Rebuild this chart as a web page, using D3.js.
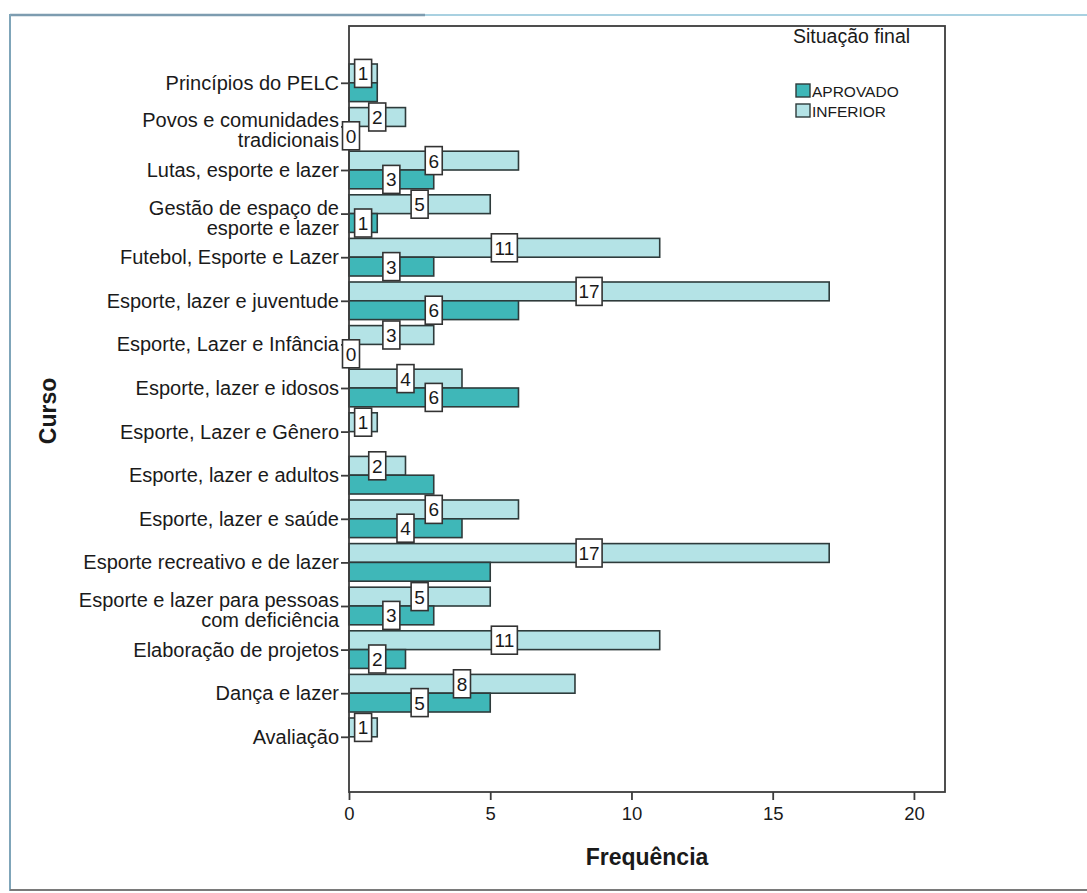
<!DOCTYPE html>
<html>
<head>
<meta charset="utf-8">
<script src="https://cdn.jsdelivr.net/npm/d3@7"></script>
<style>
  html, body { margin: 0; padding: 0; background: #ffffff; }
  svg { display: block; font-family: "Liberation Sans", Arial, sans-serif; }
</style>
</head>
<body>
<svg id="chart" width="1087" height="893"></svg>
<script>
// ---- data ----
const categories = [
  "Princípios do PELC",
  "Povos e comunidades|tradicionais",
  "Lutas, esporte e lazer",
  "Gestão de espaço de|esporte e lazer",
  "Futebol, Esporte e Lazer",
  "Esporte, lazer e juventude",
  "Esporte, Lazer e Infância",
  "Esporte, lazer e idosos",
  "Esporte, Lazer e Gênero",
  "Esporte, lazer e adultos",
  "Esporte, lazer e  saúde",
  "Esporte recreativo e de lazer",
  "Esporte e lazer para pessoas|com deficiência",
  "Elaboração de projetos",
  "Dança e lazer",
  "Avaliação"
];
const seriesNames = ["APROVADO", "INFERIOR"];
const aprovado = [1, 0, 3, 1, 3, 6, 0, 6, null, 3, 4, 5, 3, 2, 5, null];
const inferior = [1, 2, 6, 5, 11, 17, 3, 4, 1, 2, 6, 17, 5, 11, 8, 1];
const aprovadoLabels = [null, "0", "3", "1", "3", "6", "0", "6", null, null, "4", null, "3", "2", "5", null];
const inferiorLabels = ["1", "2", "6", "5", "11", "17", "3", "4", "1", "2", "6", "17", "5", "11", "8", "1"];
const xTicks = [0, 5, 10, 15, 20];
const legendTitle = "Situação final";
const xTitle = "Frequência";
const yTitle = "Curso";

// ---- styles ----
const colors = { APROVADO: "#3fb7b8", INFERIOR: "#b4e3e6" };
const strokeColor = "#2e3b3b";

const svg = d3.select("#chart");

// outer frame
svg.append("line").attr("x1", 10).attr("x2", 425).attr("y1", 15).attr("y2", 15)
  .attr("stroke", "#7d9cb0").attr("stroke-width", 2.5);
svg.append("line").attr("x1", 425).attr("x2", 1087).attr("y1", 15).attr("y2", 15)
  .attr("stroke", "#a9d1e1").attr("stroke-width", 2);
svg.append("line").attr("x1", 10).attr("x2", 10).attr("y1", 14).attr("y2", 891)
  .attr("stroke", "#7fa5b9").attr("stroke-width", 2);
svg.append("line").attr("x1", 10).attr("x2", 1087).attr("y1", 890).attr("y2", 890)
  .attr("stroke", "#7a7a7a").attr("stroke-width", 2);

// plot geometry
const plot = { left: 349, right: 945, top: 26, bottom: 792 };
const x = d3.scaleLinear().domain([0, 21.1]).range([plot.left, plot.right]);
const y = d3.scalePoint().domain(categories).range([82.8, 82.8 + 15 * 43.6]);
const inner = d3.scaleBand().domain(["INFERIOR", "APROVADO"]).range([-18.8, 18.8]);

const g = svg.append("g");

// bars
const rows = categories.map((c, i) => ({
  cat: c,
  APROVADO: aprovado[i], INFERIOR: inferior[i],
  labA: aprovadoLabels[i], labI: inferiorLabels[i]
}));

const barData = [];
rows.forEach(r => {
  ["INFERIOR", "APROVADO"].forEach(s => {
    barData.push({ cat: r.cat, series: s, value: r[s], label: s === "APROVADO" ? r.labA : r.labI });
  });
});

g.selectAll("rect.bar")
  .data(barData.filter(d => d.value !== null && d.value > 0))
  .join("rect")
  .attr("class", "bar")
  .attr("x", x(0))
  .attr("y", d => y(d.cat) + inner(d.series))
  .attr("width", d => x(d.value) - x(0))
  .attr("height", inner.bandwidth())
  .attr("fill", d => colors[d.series])
  .attr("stroke", strokeColor)
  .attr("stroke-width", 1.6);

// plot frame
g.append("rect")
  .attr("x", plot.left).attr("y", plot.top)
  .attr("width", plot.right - plot.left).attr("height", plot.bottom - plot.top)
  .attr("fill", "none").attr("stroke", "#3c3c3c").attr("stroke-width", 1.8);

// y axis
const yAxis = d3.axisLeft(y).tickSize(8).tickFormat("");
const yAx = g.append("g").attr("transform", `translate(${plot.left},0)`).call(yAxis);
yAx.select(".domain").remove();
yAx.selectAll(".tick line").attr("stroke", "#3c3c3c").attr("stroke-width", 1.8);

// category labels
const catG = g.append("g");
categories.forEach(c => {
  const lines = c.split("|");
  const t = catG.append("text")
    .attr("x", 339)
    .attr("text-anchor", "end")
    .attr("font-size", 20)
    .attr("fill", "#1a1a1a");
  if (lines.length === 1) {
    t.attr("y", y(c) + 7).text(lines[0]);
  } else {
    lines.forEach((l, k) => {
      t.append("tspan").attr("x", 339).attr("y", y(c) + 1 + k * 20).text(l);
    });
  }
});

// x axis
const xAxis = d3.axisBottom(x).tickValues(xTicks).tickSize(8).tickFormat(d3.format("d"));
const xAx = g.append("g").attr("transform", `translate(0,${plot.bottom})`).call(xAxis);
xAx.select(".domain").remove();
xAx.selectAll(".tick line").attr("stroke", "#3c3c3c").attr("stroke-width", 1.8);
xAx.selectAll(".tick text")
  .attr("font-size", 18.5).attr("fill", "#1a1a1a")
  .attr("font-family", "Liberation Sans, Arial, sans-serif")
  .attr("dy", null).attr("y", 28);

// value labels
const labData = barData.filter(d => d.label !== null);
const labG = g.append("g");
labData.forEach(d => {
  const cx = x((d.value || 0) / 2) + (d.value === 0 ? 2 : 0);
  const cy = y(d.cat) + inner(d.series) + inner.bandwidth() / 2;
  const w = d.label.length > 1 ? 26 : 17;
  const h = 28;
  labG.append("rect")
    .attr("x", cx - w / 2).attr("y", cy - h / 2)
    .attr("width", w).attr("height", h)
    .attr("fill", "#ffffff").attr("stroke", "#333").attr("stroke-width", 1.6);
  labG.append("text")
    .attr("x", cx).attr("y", cy + 7)
    .attr("text-anchor", "middle")
    .attr("font-size", 19)
    .attr("fill", "#1a1a1a")
    .text(d.label);
});

// axis titles
svg.append("text")
  .attr("x", (plot.left + plot.right) / 2).attr("y", 865)
  .attr("text-anchor", "middle")
  .attr("font-size", 23).attr("font-weight", "bold").attr("fill", "#1a1a1a")
  .text(xTitle);
svg.append("text")
  .attr("transform", "translate(56,411) rotate(-90)")
  .attr("text-anchor", "middle")
  .attr("font-size", 23).attr("font-weight", "bold").attr("fill", "#1a1a1a")
  .text(yTitle);

// legend
const leg = svg.append("g");
leg.append("text").attr("x", 793).attr("y", 43)
  .attr("font-size", 19.5).attr("fill", "#1a1a1a").text(legendTitle);
seriesNames.forEach((s, i) => {
  const yy = 84 + i * 20;
  leg.append("rect").attr("x", 796).attr("y", yy).attr("width", 14).attr("height", 13)
    .attr("fill", colors[s]).attr("stroke", strokeColor).attr("stroke-width", 1.4);
  leg.append("text").attr("x", 812).attr("y", yy + 13)
    .attr("font-size", 15.5).attr("fill", "#1a1a1a").text(s);
});
</script>
</body>
</html>
